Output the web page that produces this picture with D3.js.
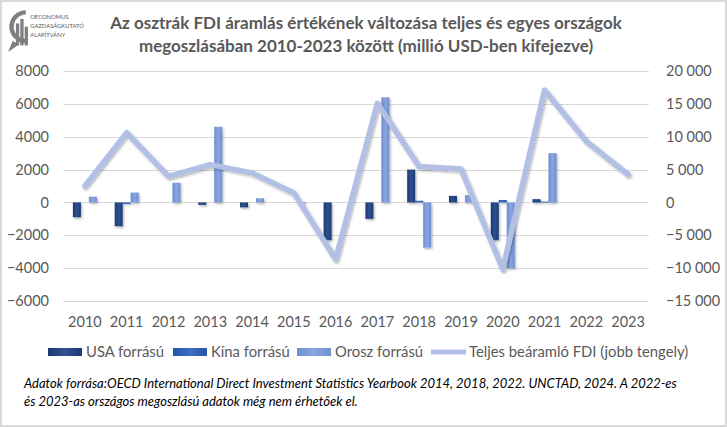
<!DOCTYPE html>
<html><head><meta charset="utf-8">
<script src="https://cdnjs.cloudflare.com/ajax/libs/d3/7.8.5/d3.min.js"></script>
<style>
html,body{margin:0;padding:0;background:#fff;}
svg{display:block;}
</style>
</head><body>
<svg id="chart" width="727" height="427"></svg>
<script>
// ---- data ----
const years = ["2010","2011","2012","2013","2014","2015","2016","2017","2018","2019","2020","2021","2022","2023"];
const usaValues   = [-900, -1450, 0, -150, -300, 0, -2300, -1000, 2000, 400, -2300, 200, null, null];
const kinaValues  = [0, -100, 0, 0, 0, 0, 0, 0, 100, 0, 150, 50, null, null];
const oroszValues = [350, 600, 1200, 4600, 250, -60, 0, 6400, -2750, 450, -4000, 3000, null, null];
const totalValues = [2500, 10600, 3950, 5750, 4500, 1450, -8650, 15100, 5450, 5100, -10150, 17100, 9300, 4250];
const seriesNames = ["USA forrású", "Kína forrású", "Orosz forrású"];
const lineName = "Teljes beáramló FDI (jobb tengely)";
const leftTicks = [-6000, -4000, -2000, 0, 2000, 4000, 6000, 8000];
const rightTicks = [-15000, -10000, -5000, 0, 5000, 10000, 15000, 20000];
const titleLines = ["Az osztrák FDI áramlás értékének változása teljes és egyes országok",
                    "megoszlásában 2010-2023 között (millió USD-ben kifejezve)"];
const footLines = ["Adatok forrása:OECD International Direct Investment Statistics Yearbook 2014, 2018, 2022. UNCTAD, 2024. A 2022-es",
                   "és 2023-as országos megoszlású adatok még nem érhetőek el."];

// ---- setup ----
const svg = d3.select("#chart");
const W = 727, H = 427;
const font = "Lato, 'Open Sans', sans-serif";
const txt = "#595959";
const colors = [["#1c3a70","#2d5191"],["#2a55a6","#3f6cc4"],["#6d8ed3","#8aa6de"]];
const lineColor = "#b3c0e6";

const defs = svg.append("defs");
colors.forEach((c,i)=>{
  const g = defs.append("linearGradient").attr("id","g"+i).attr("x1","0").attr("x2","1").attr("y1","0").attr("y2","0");
  g.append("stop").attr("offset","0%").attr("stop-color",c[0]);
  g.append("stop").attr("offset","50%").attr("stop-color",c[1]);
  g.append("stop").attr("offset","100%").attr("stop-color",c[0]);
});
const f = defs.append("filter").attr("id","sh").attr("x","-30%").attr("y","-30%").attr("width","160%").attr("height","160%");
f.append("feDropShadow").attr("dx",1.2).attr("dy",1.5).attr("stdDeviation",1.2).attr("flood-color","#000").attr("flood-opacity",0.3);

// border
svg.append("rect").attr("x",1).attr("y",1).attr("width",W-2).attr("height",H-2)
  .attr("fill","#fff").attr("stroke","#d9d9d9").attr("stroke-width",2);

const pLeft = 64, pRight = 649, pTop = 71, pBottom = 301;

const x0 = d3.scaleBand().domain(years).range([pLeft,pRight]).paddingInner(0.426).paddingOuter(0.213);
const x1 = d3.scaleBand().domain(d3.range(3)).range([0, x0.bandwidth()]);
const yL = d3.scaleLinear().domain([-6000, 8000]).range([pBottom, pTop]);
const yR = d3.scaleLinear().domain([-15000, 20000]).range([pBottom, pTop]);

// gridlines
svg.append("g").selectAll("line").data(leftTicks).join("line")
  .attr("x1",pLeft).attr("x2",pRight)
  .attr("y1",d=>Math.round(yL(d))+0.5).attr("y2",d=>Math.round(yL(d))+0.5)
  .attr("stroke","#d9d9d9").attr("stroke-width",1);

// left axis
const axL = d3.axisLeft(yL).tickValues(leftTicks).tickSize(0).tickPadding(0).tickFormat(d3.format("d"));
const gL = svg.append("g").attr("transform",`translate(${pLeft-15},0)`).call(axL);
gL.select(".domain").remove();
gL.selectAll("text").attr("font-family",font).attr("font-size",14.5).attr("fill",txt);

// right axis
const fmtR = d => d3.format(",")(d).replace(/,/g," ");
const axR = d3.axisRight(yR).tickValues(rightTicks).tickSize(0).tickPadding(0).tickFormat(fmtR);
const gR = svg.append("g").attr("transform",`translate(${pRight+17},0)`).call(axR);
gR.select(".domain").remove();
gR.selectAll("text").attr("font-family",font).attr("font-size",14.5).attr("fill",txt);

// x axis labels
const axB = d3.axisBottom(x0).tickSize(0).tickPadding(0);
const gB = svg.append("g").attr("transform",`translate(0,${pBottom+16})`).call(axB);
gB.select(".domain").remove();
gB.selectAll("text").attr("font-family",font).attr("font-size",14.5).attr("fill",txt).attr("dy","0.7em");

// bars
const allSeries = [usaValues, kinaValues, oroszValues];
allSeries.forEach((vals,i)=>{
  svg.append("g").attr("filter","url(#sh)").selectAll("rect")
    .data(years.map((y,j)=>({y, v: vals[j]})).filter(d=>d.v!==null && d.v!==0))
    .join("rect")
    .attr("x",d=>x0(d.y)+x1(i))
    .attr("width",x1.bandwidth())
    .attr("y",d=>Math.min(yL(d.v),yL(0)))
    .attr("height",d=>Math.max(1,Math.abs(yL(d.v)-yL(0))))
    .attr("fill","url(#g"+i+")");
});

// line
const lineGen = d3.line().x((d,i)=>x0(years[i])+x0.bandwidth()/2).y(d=>yR(d));
svg.append("path").datum(totalValues).attr("d",lineGen)
  .attr("fill","none").attr("stroke",lineColor).attr("stroke-width",5.5)
  .attr("stroke-linejoin","round").attr("stroke-linecap","round").attr("filter","url(#sh)");

// title
svg.append("g").selectAll("text").data(titleLines).join("text")
  .attr("x",366).attr("y",(d,i)=>29+i*23).attr("text-anchor","middle")
  .attr("font-family",font).attr("font-weight","bold").attr("font-size",17).attr("fill",txt)
  .text(d=>d);

// logo
const logo = svg.append("g").attr("transform","translate(6,8) scale(1.1)");
logo.append("path").attr("d","M18 2 A14 14 0 1 0 18 32 L18 28 A10 10 0 1 1 18 6 Z").attr("fill","#7f7f7f");
logo.append("rect").attr("x",9).attr("y",14).attr("width",3).attr("height",20).attr("fill","#7f7f7f");
logo.append("rect").attr("x",13).attr("y",10).attr("width",3).attr("height",24).attr("fill","#7f7f7f");
logo.append("rect").attr("x",17).attr("y",17).attr("width",3).attr("height",17).attr("fill","#7f7f7f");
logo.append("path").attr("d","M6 30 L2 40 L12 33 Z").attr("fill","#7f7f7f");
["OECONOMUS","GAZDASÁGKUTATÓ","ALAPÍTVÁNY"].forEach((t,i)=>{
  logo.append("text").attr("x",22).attr("y",10+i*8).attr("font-family",font).attr("font-size",5.3).attr("fill","#595959").text(t);
});

// legend
const legItems = [
  {name: seriesNames[0], type:"bar", i:0, x:48},
  {name: seriesNames[1], type:"bar", i:1, x:173},
  {name: seriesNames[2], type:"bar", i:2, x:297},
  {name: lineName, type:"line", x:431}
];
const lg = svg.append("g");
legItems.forEach(it=>{
  if(it.type==="bar"){
    lg.append("rect").attr("x",it.x).attr("y",348).attr("width",34).attr("height",8).attr("fill","url(#g"+it.i+")");
  } else {
    lg.append("line").attr("x1",it.x).attr("x2",it.x+35).attr("y1",352).attr("y2",352)
      .attr("stroke",lineColor).attr("stroke-width",5);
  }
  lg.append("text").attr("x",it.x+38).attr("y",357).attr("font-family",font).attr("font-size",14.8).attr("fill",txt).text(it.name);
});

// footnote
svg.append("g").selectAll("text").data(footLines).join("text")
  .attr("x",24).attr("y",(d,i)=>388+i*18)
  .attr("font-family",font).attr("font-style","italic").attr("font-size",13).attr("fill","#000")
  .text(d=>d);
</script>
</body></html>
